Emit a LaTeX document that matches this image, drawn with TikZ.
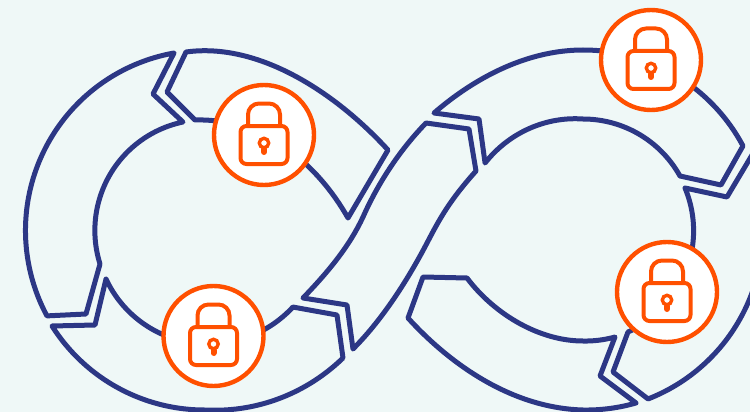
\documentclass[tikz,border=0pt]{standalone}
\definecolor{bgc}{HTML}{EFF8F7}
\definecolor{navy}{HTML}{2C3785}
\definecolor{orng}{HTML}{FF5000}
\tikzset{
  x=1pt,y=-1pt,
  seg/.style={draw=navy,line width=5pt,line join=round,line cap=round},
  lockdisc/.style={circle,draw=orng,fill=white,line width=4.4pt,minimum size=100pt,inner sep=0pt},
  lockicon/.pic={
    \draw[orng,line width=4pt,rounded corners=11pt] (-16,-9) -- (-16,-31.5) -- (16,-31.5) -- (16,-9);
    \draw[orng,line width=4pt,rounded corners=6pt] (-23.5,-9) rectangle (23.5,29);
    \draw[orng,line width=3.4pt] (0,8) circle[radius=4.7];
    \draw[orng,line width=6pt,line cap=round] (0,14) -- (0,17);
  }
}
% spiral arc around (#1,#2) from (#3,#4) to (#5,#6); #7 = +1 clockwise on screen, -1 anticlockwise
\newcommand{\spi}[7]{\pgfextra{%
  \pgfmathsetmacro\spA{atan2(#4-#2,#3-#1)}%
  \pgfmathsetmacro\spB{atan2(#6-#2,#5-#1)}%
  \pgfmathsetmacro\spD{\spB-\spA}%
  \pgfmathsetmacro\spD{(#7>0 && \spD<0) ? \spD+360 : ((#7<0 && \spD>0) ? \spD-360 : \spD)}%
  \pgfmathsetmacro\spR{veclen(#3-#1,#4-#2)}%
  \pgfmathsetmacro\spS{veclen(#5-#1,#6-#2)}%
  \global\let\spA\spA\global\let\spD\spD\global\let\spR\spR\global\let\spS\spS}%
  -- plot[domain=0:1,samples=50,smooth] ({#1+(\spR+(\spS-\spR)*\x)*cos(\spA+\spD*\x)},{#2+(\spR+(\spS-\spR)*\x)*sin(\spA+\spD*\x)})}
\begin{document}
\begin{tikzpicture}
\useasboundingbox (0,0) rectangle (750,412);
\clip (0,0) rectangle (750,412);
\fill[bgc] (0,0) rectangle (750,412);
% left loop
\draw[seg] (174,53) \spi{206}{230}{174}{53}{47}{316}{-1} -- (86,314) -- (100,264) \spi{206}{230}{100}{264}{183}{122}{1} -- (153,94) -- cycle;
\draw[seg] (186,52) .. controls (258,42) and (335,92) .. (388,150) -- (348,218) .. controls (318,165) and (265,118) .. (195,120) -- (167,92) -- cycle;
\draw[seg] (52,326) -- (95,325) -- (106,279) \spi{206}{230}{106}{279}{293}{307}{-1} -- (337,315) -- (343,358) \spi{206}{230}{343}{358}{206}{410}{1} \spi{206}{230}{206}{410}{52}{326}{1} -- cycle;
% crossing band
\draw[seg] (303,298) -- (347,305) -- (353,349) .. controls (380,322) and (405,285) .. (427,243) .. controls (440,218) and (450,200) .. (476,171) -- (469,129) -- (426,123) .. controls (395,155) and (375,190) .. (363,217) .. controls (350,245) and (330,270) .. (303,298) -- cycle;
% right loop
\draw[seg] (434,113) .. controls (478,75) and (530,50) .. (583,50) \spi{583}{230}{583}{50}{743}{146}{1} -- (721,185) -- (680,176) \spi{583}{230}{680}{176}{583}{119}{-1} \spi{583}{230}{583}{119}{485}{163}{-1} -- (479,119) -- cycle;
\draw[seg] (685,188) -- (727,197) -- (755,150) \spi{583}{230}{755}{150}{763}{230}{1} \spi{583}{230}{763}{230}{648}{399}{1} -- (613,372) -- (628,332) \spi{583}{230}{628}{332}{685}{188}{-1};
\draw[seg] (423,277) -- (467,278) .. controls (495,315) and (540,341) .. (583,341) \spi{583}{230}{583}{341}{615}{337}{-1} -- (600,376) -- (636,403) \spi{583}{230}{636}{403}{583}{410}{1} .. controls (510,408) and (448,362) .. (408,318) -- cycle;
% locks
\node[lockdisc] (lockA) at (264,135) {};
\node[lockdisc] (lockB) at (213.5,336) {};
\node[lockdisc] (lockC) at (651,60) {};
\node[lockdisc] (lockD) at (667,292) {};
\pic at (lockA) {lockicon};
\pic at (lockB) {lockicon};
\pic at (lockC) {lockicon};
\pic at (lockD) {lockicon};
\end{tikzpicture}
\end{document}
